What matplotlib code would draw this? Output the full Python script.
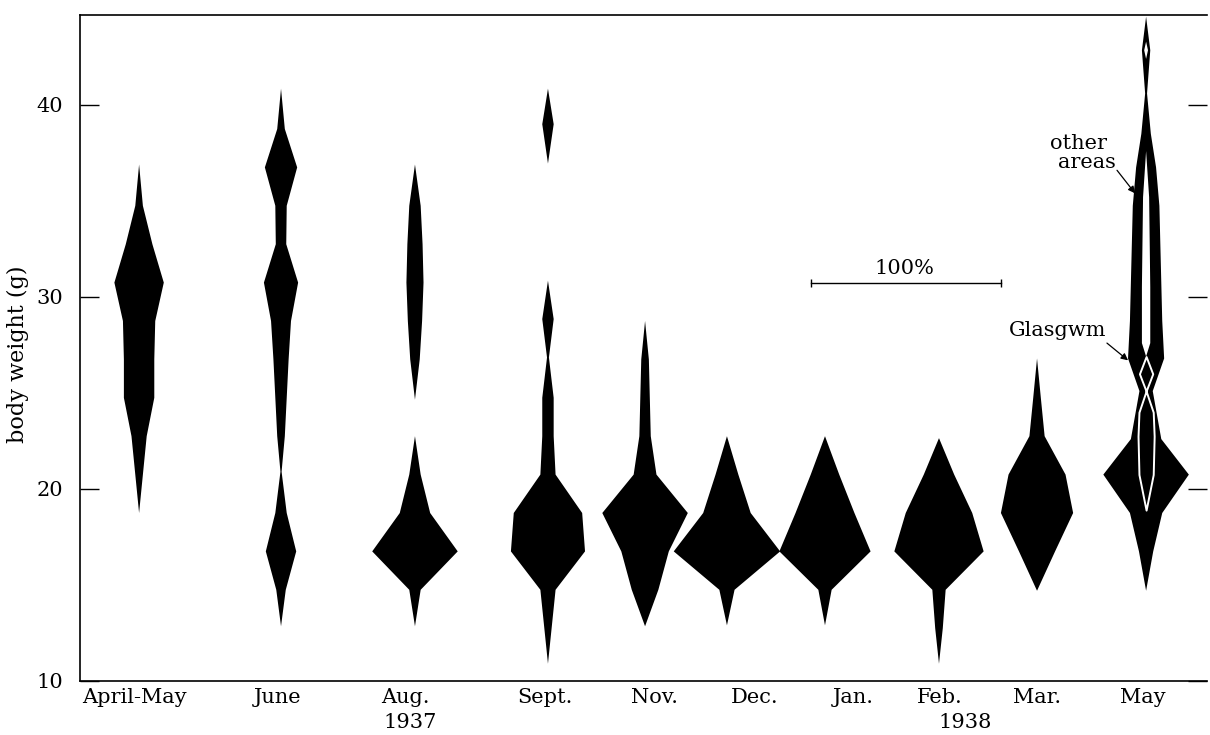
import matplotlib
matplotlib.use("Agg")
import matplotlib.pyplot as plt

# kite data: weight class (g) and full kite width (% of sample)
aprMayWeight = [18.75, 20.75, 22.75, 24.75, 26.75, 28.75, 30.75, 32.75, 34.75, 36.9]
aprMayWidth = [0, 4, 8, 16, 16, 17, 26, 14, 4, 0]

juneWeight = [12.85, 14.75, 16.75, 18.75, 20.9, 22.75, 24.75, 26.75, 28.75, 30.75, 32.75, 34.75, 36.75, 38.75, 40.85]
juneWidth = [0, 5, 16, 6, 0.6, 4, 6, 8, 10.5, 18, 5.5, 6, 17, 4, 0]

augLowWeight = [12.85, 14.75, 16.75, 18.75, 20.75, 22.75]
augLowWidth = [0, 6, 45, 16, 6, 0]
augHighWeight = [24.65, 26.75, 28.75, 30.75, 32.75, 34.75, 36.9]
augHighWidth = [0, 5, 7.5, 9, 8, 6, 0]

septLowWeight = [10.9, 14.75, 16.75, 18.75, 20.75, 22.75, 24.75, 26.85, 28.85, 30.85]
septLowWidth = [0, 8, 39, 36, 8, 6, 6, 1, 6, 0]
septHighWeight = [36.95, 39.0, 40.85]
septHighWidth = [0, 6, 0]

novWeight = [12.85, 14.75, 16.75, 18.75, 20.75, 22.75, 24.75, 26.75, 28.75]
novWidth = [0, 14, 25, 45, 12, 6, 5, 4, 0]

decWeight = [12.9, 14.75, 16.75, 18.75, 20.75, 22.75]
decWidth = [0, 8, 56, 25, 12, 0]

janWeight = [12.9, 14.75, 16.75, 18.75, 20.75, 22.75]
janWidth = [0, 7, 48, 31, 15, 0]

febWeight = [10.9, 12.75, 14.75, 16.75, 18.75, 20.75, 22.65]
febWidth = [0, 4, 7, 47, 35, 16, 0]

marWeight = [14.7, 16.75, 18.75, 20.75, 22.75, 24.75, 26.8]
marWidth = [0, 19, 38, 30, 8, 4, 0]

# May 1938: total (other areas + Glasgwm)
mayWeight = [14.7, 16.75, 18.75, 20.75, 22.6, 25.1, 26.8, 28.75, 30.75, 32.75, 34.75, 36.75, 38.5, 40.6, 42.85, 44.6]
mayWidth = [0, 7.5, 17, 45, 16, 7, 19, 17, 16, 15, 14, 10.5, 5, 1, 4.4, 0]
mayGapWeight = [26.9, 27.6, 30.5, 35.2, 37.6]
mayGapWidth = [0, 4.4, 4.4, 3.2, 0]
mayHoleWeight = [42.4, 42.85, 43.3]
mayHoleWidth = [0, 2, 0]
glasgwmWeight = [18.9, 20.75, 22.75, 24.0, 25.1, 26.0, 26.9]
glasgwmWidth = [0, 7.5, 8.5, 7.5, 0, 7, 0]

monthLabels = ["April-May", "June", "Aug.", "Sept.", "Nov.", "Dec.", "Jan.", "Feb.", "Mar.", "May"]

# layout (x in % units, 100% = 190 px)
labelPos = [28.4, 104.2, 171, 244.7, 302.6, 355.3, 406.8, 452.6, 503.7, 559.5]
kiteCenter = [31.1, 105.8, 176.3, 246.3, 297.4, 340.5, 392.1, 452.1, 503.7, 561.1]

serif = "DejaVu Serif"


def drawKite(ax, center, weight, width, face="black", edge="none", lw=0):
    left = [center - w / 2.0 for w in width]
    right = [center + w / 2.0 for w in width]
    ax.fill_betweenx(weight, left, right, facecolor=face, edgecolor=edge, linewidth=lw)


def main():
    fig = plt.figure(figsize=(12.1, 7.35), dpi=100)
    ax = fig.add_axes([80 / 1210, 54 / 735, 1127 / 1210, 666 / 735])

    drawKite(ax, kiteCenter[0], aprMayWeight, aprMayWidth)
    drawKite(ax, kiteCenter[1], juneWeight, juneWidth)
    drawKite(ax, kiteCenter[2], augLowWeight, augLowWidth)
    drawKite(ax, kiteCenter[2], augHighWeight, augHighWidth)
    drawKite(ax, kiteCenter[3], septLowWeight, septLowWidth)
    drawKite(ax, kiteCenter[3], septHighWeight, septHighWidth)
    drawKite(ax, kiteCenter[4], novWeight, novWidth)
    drawKite(ax, kiteCenter[5], decWeight, decWidth)
    drawKite(ax, kiteCenter[6], janWeight, janWidth)
    drawKite(ax, kiteCenter[7], febWeight, febWidth)
    drawKite(ax, kiteCenter[8], marWeight, marWidth)
    drawKite(ax, kiteCenter[9], mayWeight, mayWidth)
    drawKite(ax, kiteCenter[9], mayGapWeight, mayGapWidth, face="white")
    drawKite(ax, kiteCenter[9], mayHoleWeight, mayHoleWidth, face="white")
    drawKite(ax, kiteCenter[9], glasgwmWeight, glasgwmWidth, face="black", edge="white", lw=1.4)

    ax.set_xlim(0, 1127 / 1.9)
    ax.set_ylim(10, 10 + 666 / 19.2)

    # 100% scale bar
    ax.errorbar([384.6, 484.6], [30.74, 30.74], yerr=0.2, color="black", lw=1, capsize=0, elinewidth=1)
    ax.text(434, 31.5, "100%", ha="center", va="center", fontsize=15, family=serif)

    ax.text(525.3, 38.02, "other", ha="center", va="center", fontsize=15, family=serif)
    ax.text(530, 37.03, "areas", ha="center", va="center", fontsize=15, family=serif)
    ax.annotate("", xy=(555.3, 35.4), xytext=(545.8, 36.6),
                arrowprops=dict(arrowstyle="-|>", color="black", lw=0.9, mutation_scale=10, shrinkA=0, shrinkB=0))
    ax.text(514.5, 28.28, "Glasgwm", ha="center", va="center", fontsize=15, family=serif)
    ax.annotate("", xy=(551.6, 26.7), xytext=(540.5, 27.6),
                arrowprops=dict(arrowstyle="-|>", color="black", lw=0.9, mutation_scale=10, shrinkA=0, shrinkB=0))

    ax.set_xticks(labelPos)
    ax.set_xticklabels(monthLabels, fontsize=15, family=serif)
    ax.tick_params(axis="x", length=0, pad=5)
    ax.text(174, -0.0616, "1937", transform=ax.get_xaxis_transform(), ha="center", va="center", fontsize=15, family=serif)
    ax.text(466, -0.0616, "1938", transform=ax.get_xaxis_transform(), ha="center", va="center", fontsize=15, family=serif)

    ax.set_yticks([10, 20, 30, 40])
    ax.set_yticklabels(["10", "20", "30", "40"], fontsize=15, family=serif)
    ax.tick_params(axis="y", direction="in", length=14, width=1, pad=12, right=True)
    ax.set_ylabel("body weight (g)", fontsize=16, family=serif)
    ax.yaxis.set_label_coords(-0.045, 0.49)

    ax.spines["right"].set_visible(False)
    for side in ["left", "bottom", "top"]:
        ax.spines[side].set_linewidth(1.2)

    fig.savefig("out.png", dpi=100)


if __name__ == "__main__":
    main()
